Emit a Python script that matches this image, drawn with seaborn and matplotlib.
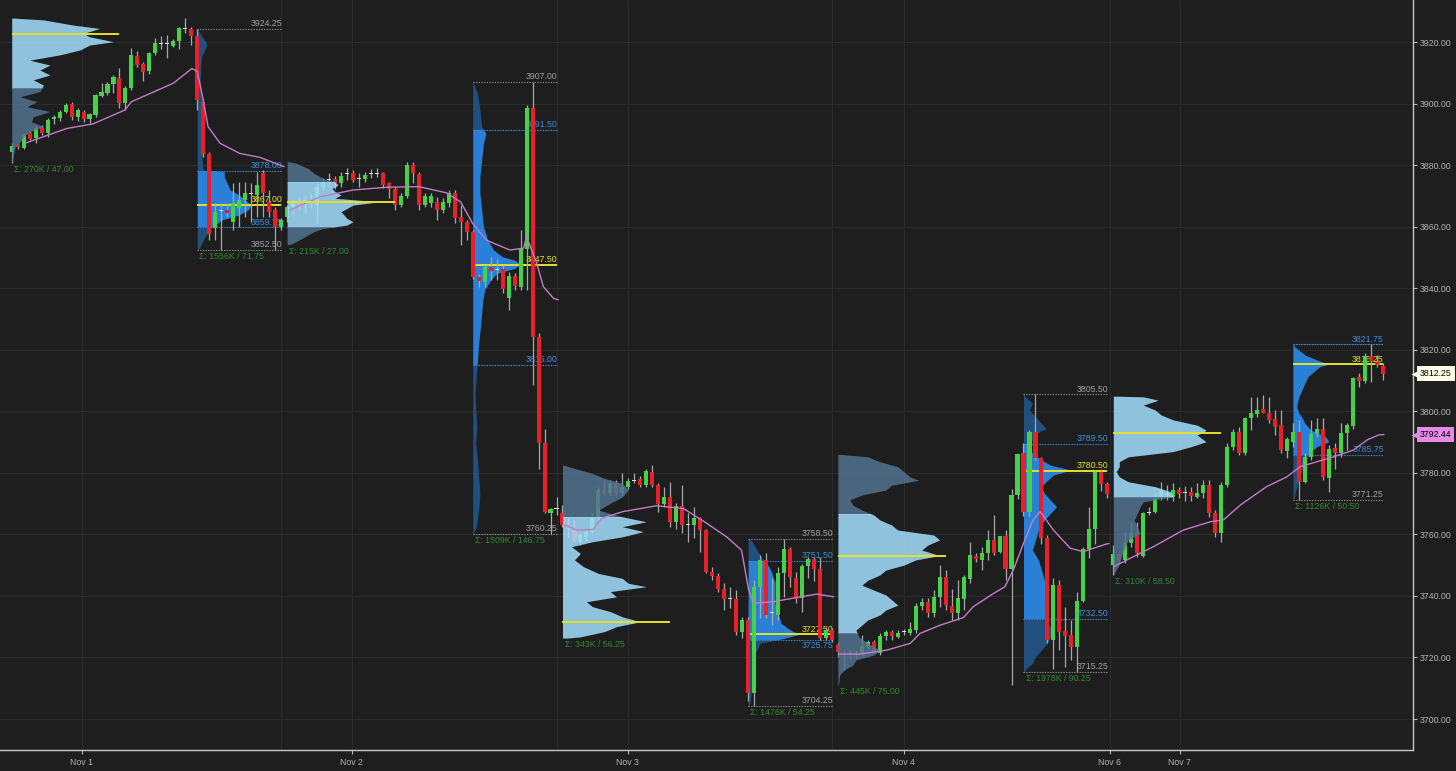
import matplotlib
matplotlib.use("Agg")
import matplotlib.pyplot as plt
import matplotlib.transforms as mtransforms
from matplotlib.patches import Rectangle
import numpy as np
import pandas as pd
import seaborn as sns

# 30 min candles (open, high, low, close), one list per session
ohlc_a = [(3884.2, 3887.1, 3880.75, 3886.3), (3886.8, 3887.3, 3885.2, 3885.8), (3885.7, 3890.5, 3885.2, 3890.0),
          (3890.3, 3891.1, 3888.2, 3888.6), (3888.7, 3892.7, 3887.3, 3892.2), (3892.4, 3893.0, 3889.8, 3890.5),
          (3890.3, 3895.2, 3889.2, 3894.6), (3894.9, 3896.3, 3893.3, 3895.7), (3895.2, 3897.9, 3894.4, 3897.4),
          (3897.4, 3900.1, 3896.8, 3899.5), (3899.7, 3900.6, 3894.6, 3895.5), (3895.7, 3898.4, 3894.4, 3897.9),
          (3897.4, 3897.9, 3894.1, 3894.9), (3895.0, 3897.0, 3893.6, 3896.5), (3896.3, 3903.1, 3895.7, 3902.8),
          (3902.6, 3906.6, 3902.2, 3903.6), (3903.5, 3907.1, 3902.8, 3906.3), (3906.3, 3909.3, 3903.3, 3908.5),
          (3908.4, 3911.4, 3898.4, 3900.1), (3900.1, 3905.7, 3897.9, 3905.2), (3905.2, 3917.9, 3904.4, 3915.8),
          (3915.5, 3917.2, 3912.0, 3912.5), (3912.7, 3913.6, 3907.4, 3910.4), (3910.7, 3916.9, 3909.6, 3916.3),
          (3916.3, 3921.2, 3915.8, 3919.6), (3919.4, 3921.9, 3917.6, 3919.6), (3919.5, 3922.3, 3914.7, 3919.4),
          (3918.7, 3920.9, 3918.3, 3920.4), (3920.4, 3925.0, 3917.6, 3924.4), (3924.2, 3927.75, 3922.8, 3924.4),
          (3924.2, 3925.0, 3919.0, 3921.9)]
ohlc_b = [(3921.9, 3924.25, 3897.9, 3901.1), (3900.6, 3901.4, 3882.5, 3883.6), (3883.6, 3884.4, 3855.7, 3857.5),
          (3859.4, 3867.6, 3855.7, 3864.9), (3865.2, 3867.6, 3852.5, 3865.0), (3865.4, 3867.6, 3863.2, 3864.3),
          (3861.6, 3874.1, 3858.9, 3867.6), (3866.0, 3874.6, 3860.0, 3868.7), (3868.7, 3874.6, 3863.2, 3870.8),
          (3870.9, 3874.1, 3861.6, 3870.7), (3870.3, 3877.9, 3863.2, 3873.5), (3877.3, 3878.4, 3863.2, 3870.8),
          (3868.1, 3871.9, 3863.2, 3864.9), (3865.4, 3866.5, 3852.5, 3860.0), (3860.0, 3862.7, 3858.9, 3862.1)]
ohlc_c = [(3863.2, 3867.0, 3861.6, 3866.5), (3866.5, 3869.0, 3864.0, 3868.0), (3868.0, 3869.5, 3865.5, 3867.0),
          (3867.0, 3870.0, 3864.5, 3868.5), (3868.5, 3870.5, 3866.0, 3867.5), (3867.0, 3874.1, 3861.1, 3873.0),
          (3873.0, 3875.7, 3871.9, 3874.6), (3875.2, 3877.4, 3873.3, 3875.4), (3875.4, 3876.5, 3872.3, 3874.1),
          (3874.1, 3877.9, 3873.0, 3876.5), (3877.0, 3878.9, 3875.2, 3877.2), (3877.3, 3878.4, 3874.6, 3875.2),
          (3875.4, 3877.3, 3873.0, 3875.6), (3875.4, 3877.9, 3874.6, 3876.8), (3877.0, 3878.6, 3875.7, 3877.2),
          (3877.1, 3878.9, 3876.2, 3877.3), (3877.3, 3877.9, 3872.5, 3873.5), (3874.1, 3874.6, 3869.2, 3872.1),
          (3872.1, 3873.0, 3865.4, 3867.0), (3867.0, 3870.8, 3866.5, 3870.0), (3869.9, 3881.1, 3869.2, 3880.0),
          (3880.0, 3881.1, 3874.1, 3877.3), (3877.1, 3877.9, 3865.4, 3867.0), (3867.0, 3870.8, 3866.5, 3870.0),
          (3867.6, 3870.8, 3866.5, 3869.9), (3868.1, 3869.7, 3862.2, 3865.4), (3865.4, 3869.2, 3864.3, 3868.1),
          (3867.6, 3871.9, 3866.5, 3870.8), (3870.8, 3871.9, 3861.1, 3862.7), (3863.0, 3867.0, 3854.1, 3861.6),
          (3861.6, 3862.2, 3855.6, 3858.4)]
ohlc_d = [(3858.4, 3859.0, 3843.0, 3843.7), (3843.7, 3844.5, 3840.5, 3842.4), (3842.1, 3847.5, 3840.5, 3846.8),
          (3846.8, 3850.2, 3842.6, 3845.7), (3846.0, 3849.5, 3842.6, 3846.2), (3846.1, 3847.5, 3838.3, 3839.6),
          (3836.7, 3845.4, 3832.9, 3844.0), (3844.0, 3844.8, 3839.4, 3840.7), (3840.5, 3858.9, 3839.4, 3852.9),
          (3852.6, 3899.5, 3839.4, 3898.4), (3898.4, 3907.0, 3808.5, 3824.2), (3824.2, 3825.3, 3781.4, 3789.6),
          (3789.6, 3794.4, 3766.8, 3767.4), (3767.0, 3768.5, 3760.25, 3768.1), (3768.1, 3772.2, 3766.3, 3768.3)]
ohlc_e = [(3766.8, 3769.5, 3762.5, 3763.0), (3763.0, 3765.2, 3759.2, 3761.6), (3761.4, 3764.6, 3757.6, 3758.2),
          (3757.6, 3760.5, 3756.5, 3759.7), (3759.2, 3761.5, 3758.0, 3760.8), (3760.8, 3766.8, 3760.3, 3765.4),
          (3765.2, 3775.5, 3764.7, 3774.4), (3774.4, 3777.6, 3772.8, 3773.3), (3773.3, 3777.6, 3772.8, 3776.6),
          (3776.6, 3777.6, 3772.8, 3773.3), (3773.3, 3779.8, 3772.8, 3775.5), (3775.5, 3778.2, 3774.9, 3777.4),
          (3777.4, 3779.8, 3776.6, 3777.6), (3777.9, 3779.0, 3775.5, 3776.0), (3776.0, 3781.4, 3775.5, 3780.7),
          (3780.4, 3782.5, 3775.5, 3776.0), (3776.0, 3776.6, 3767.4, 3769.9), (3769.9, 3775.5, 3769.0, 3772.0),
          (3772.0, 3777.1, 3762.5, 3764.1), (3764.1, 3770.1, 3761.9, 3769.3), (3769.3, 3776.0, 3760.3, 3763.0),
          (3763.2, 3766.8, 3757.6, 3763.0), (3763.0, 3769.0, 3758.7, 3765.2), (3765.2, 3765.7, 3754.4, 3761.4),
          (3761.4, 3761.9, 3747.3, 3747.9), (3747.9, 3749.5, 3745.2, 3746.5), (3746.5, 3747.3, 3741.4, 3742.4),
          (3742.4, 3744.1, 3735.4, 3738.9), (3739.1, 3743.0, 3736.0, 3738.9), (3738.9, 3741.9, 3727.3, 3728.4),
          (3728.4, 3733.2, 3726.25, 3732.2)]
ohlc_f = [(3732.2, 3733.0, 3706.0, 3708.3), (3708.3, 3745.2, 3704.25, 3743.0), (3743.0, 3753.3, 3732.7, 3751.7),
          (3751.7, 3753.8, 3732.7, 3733.8), (3734.6, 3745.7, 3730.5, 3734.4), (3733.8, 3749.5, 3732.2, 3747.5),
          (3747.5, 3758.5, 3739.7, 3755.1), (3755.1, 3756.0, 3743.0, 3746.0), (3745.7, 3747.9, 3737.6, 3738.9),
          (3739.2, 3750.5, 3734.9, 3749.7), (3749.7, 3752.7, 3745.7, 3752.0), (3751.9, 3752.7, 3745.0, 3748.9),
          (3748.9, 3752.7, 3725.7, 3726.2), (3726.2, 3730.0, 3725.7, 3728.9), (3728.9, 3729.5, 3725.1, 3725.7)]
ohlc_g = [(3724.0, 3725.1, 3720.2, 3721.9), (3721.5, 3722.5, 3716.0, 3721.0), (3721.0, 3722.4, 3719.5, 3721.2),
          (3721.2, 3722.4, 3719.9, 3720.8), (3721.3, 3727.3, 3720.8, 3723.7), (3723.5, 3725.7, 3722.9, 3725.1),
          (3725.1, 3725.7, 3721.3, 3721.9), (3721.5, 3727.8, 3720.8, 3727.0), (3727.0, 3729.0, 3725.7, 3728.4),
          (3728.4, 3729.0, 3725.7, 3727.0), (3726.7, 3729.0, 3726.2, 3728.1), (3728.2, 3729.4, 3727.3, 3728.4),
          (3728.0, 3731.6, 3727.3, 3729.1), (3728.9, 3737.6, 3727.8, 3736.7), (3736.7, 3739.2, 3735.4, 3738.1),
          (3738.1, 3739.2, 3733.2, 3734.3), (3734.5, 3741.9, 3733.2, 3739.7), (3739.7, 3750.0, 3736.5, 3746.2),
          (3746.2, 3748.4, 3735.4, 3737.0), (3736.7, 3742.4, 3732.2, 3734.5), (3734.3, 3745.1, 3732.2, 3739.2),
          (3739.0, 3746.8, 3735.4, 3746.0), (3745.4, 3757.6, 3744.1, 3753.3), (3752.9, 3753.8, 3751.1, 3751.9),
          (3751.7, 3756.0, 3748.4, 3754.0), (3753.8, 3761.4, 3751.7, 3758.2), (3758.2, 3766.3, 3753.3, 3754.0),
          (3754.4, 3759.5, 3753.8, 3759.5), (3759.5, 3761.4, 3745.1, 3748.9), (3748.9, 3774.9, 3711.0, 3772.8),
          (3772.8, 3786.0, 3771.5, 3786.0)]
ohlc_h = [(3786.3, 3789.6, 3766.0, 3767.4), (3767.4, 3794.0, 3766.0, 3793.4), (3793.4, 3805.5, 3784.2, 3784.7),
          (3784.7, 3785.2, 3757.0, 3758.7), (3758.7, 3759.8, 3724.6, 3725.7), (3725.7, 3745.7, 3716.4, 3743.5),
          (3743.5, 3745.1, 3722.4, 3728.4), (3728.7, 3736.5, 3717.0, 3727.0), (3727.3, 3732.2, 3719.2, 3723.5),
          (3723.5, 3741.4, 3715.25, 3738.4), (3738.4, 3756.0, 3738.0, 3755.4), (3755.4, 3769.0, 3752.2, 3761.6),
          (3761.6, 3780.9, 3757.0, 3780.4), (3780.4, 3781.4, 3774.0, 3776.4), (3776.4, 3777.1, 3771.7, 3773.1)]
ohlc_i = [(3750.0, 3756.5, 3746.8, 3753.6), (3753.3, 3754.0, 3751.1, 3751.7), (3751.7, 3760.9, 3750.6, 3757.3),
          (3757.1, 3764.1, 3756.0, 3760.5), (3760.3, 3764.1, 3752.7, 3753.8), (3753.0, 3767.4, 3752.7, 3766.8),
          (3767.0, 3769.0, 3766.3, 3767.2), (3767.4, 3773.3, 3766.8, 3772.2), (3772.2, 3777.1, 3771.2, 3774.2),
          (3773.2, 3776.0, 3771.2, 3772.9), (3772.2, 3776.6, 3770.9, 3774.4), (3774.4, 3775.5, 3771.7, 3773.1),
          (3773.5, 3775.7, 3771.0, 3773.3), (3773.9, 3775.5, 3771.0, 3772.6), (3772.2, 3776.6, 3771.7, 3773.5),
          (3773.3, 3777.6, 3771.7, 3776.0), (3776.0, 3777.6, 3765.7, 3766.8), (3766.8, 3767.9, 3759.2, 3760.3),
          (3760.3, 3777.1, 3757.6, 3776.0), (3776.0, 3789.6, 3775.5, 3788.3), (3788.3, 3794.4, 3787.4, 3793.4),
          (3793.4, 3795.0, 3785.8, 3786.3), (3786.3, 3798.2, 3785.8, 3797.7), (3797.7, 3804.7, 3793.9, 3799.3),
          (3799.1, 3804.7, 3798.2, 3800.4), (3800.6, 3805.3, 3799.3, 3799.5), (3799.3, 3804.7, 3796.1, 3797.2),
          (3797.4, 3800.4, 3792.3, 3795.0), (3795.5, 3800.4, 3786.3, 3787.4), (3787.0, 3791.7, 3784.7, 3790.9)]
ohlc_j = [(3790.1, 3796.1, 3788.5, 3793.4), (3793.4, 3797.2, 3771.25, 3777.1), (3777.1, 3786.3, 3776.6, 3785.2),
          (3785.0, 3797.2, 3784.2, 3792.6), (3792.6, 3797.7, 3791.7, 3794.1), (3794.1, 3797.7, 3777.6, 3778.7),
          (3778.2, 3789.0, 3773.9, 3787.6), (3788.0, 3789.6, 3781.4, 3786.3), (3786.3, 3796.1, 3785.2, 3792.8),
          (3792.8, 3796.1, 3787.4, 3795.5), (3795.2, 3811.2, 3794.4, 3810.7), (3811.2, 3812.3, 3808.0, 3809.9),
          (3809.9, 3818.8, 3809.1, 3817.9), (3817.9, 3821.75, 3809.6, 3816.4), (3816.1, 3818.3, 3814.5, 3815.0),
          (3814.7, 3815.6, 3810.2, 3812.25)]

# session VWAP, read at a few bars per segment
vw_ab_x = [2.2, 9.2, 13.6, 18.9, 20.0, 27.0, 30.1, 31.0, 32.0, 32.8, 34.8, 38.1, 41.5, 44.8, 45.5]
vw_ab_y = [3887.1, 3891.9, 3893.4, 3897.9, 3900.6, 3906.6, 3911.4, 3910.4, 3901.1, 3892.5, 3887.1, 3883.8, 3882.5, 3880.0, 3879.5]
vw_cd_x = [46.5, 51.5, 57.0, 62.6, 68.0, 72.6, 75.0, 77.0, 79.3, 83.2, 85.5, 86.0, 87.7, 88.8, 90.5, 91.3]
vw_cd_y = [3865.4, 3869.7, 3871.9, 3872.8, 3873.0, 3871.0, 3868.0, 3861.0, 3855.6, 3852.4, 3853.0, 3856.7, 3848.1, 3840.5, 3836.7, 3836.2]
vw_ef_x = [92.4, 94.4, 97.1, 98.5, 102.1, 107.7, 112.2, 116.1, 119.4, 121.9, 123.1, 123.9, 127.2, 131.7, 134.5, 137.3]
vw_ef_y = [3763.0, 3761.4, 3761.6, 3765.2, 3767.4, 3769.3, 3768.4, 3763.6, 3759.2, 3754.9, 3741.9, 3737.6, 3738.1, 3739.7, 3740.6, 3739.7]
vw_gh_x = [138.1, 141.7, 146.2, 150.1, 151.7, 155.1, 159.0, 160.6, 164.0, 165.9, 167.3, 169.0, 170.6, 171.8, 174.0, 176.8, 179.0, 180.7, 182.9, 183.3]
vw_gh_y = [3721.1, 3721.1, 3722.4, 3724.6, 3727.8, 3730.5, 3733.0, 3736.5, 3740.8, 3743.0, 3748.4, 3757.1, 3764.7, 3767.4, 3761.4, 3755.5, 3754.4, 3755.5, 3756.9, 3757.0]
vw_ij_x = [184.1, 187.3, 190.7, 195.7, 200.2, 202.4, 205.2, 209.6, 213.0, 215.2, 218.0, 220.8, 224.1, 226.4, 228.3, 229.2]
vw_ij_y = [3749.5, 3752.7, 3756.0, 3761.4, 3764.1, 3764.7, 3769.5, 3775.5, 3778.7, 3782.0, 3783.6, 3785.2, 3787.4, 3790.7, 3792.3, 3792.44]

# volume profiles: price levels and widths (in bars)
prof_a_px = [3927.75, 3927.2, 3925.5, 3924.4, 3922.8, 3921.7, 3920.1, 3919.0, 3917.4, 3915.8, 3914.1, 3912.5, 3910.9, 3909.3, 3907.7,
             3906.0, 3903.9, 3902.2, 3900.6, 3899.0, 3897.4, 3895.7, 3894.1, 3892.5, 3890.9, 3889.2, 3887.6, 3886.0, 3884.4, 3880.75]
prof_a_w = [0.3, 5.3, 10.3, 14.7, 12.0, 13.0, 17.0, 13.0, 11.4, 8.0, 3.0, 6.4, 4.7, 6.4, 3.6,
            5.3, 4.7, 1.4, 4.2, 2.5, 6.4, 3.6, 3.3, 5.3, 3.0, 2.0, 1.4, 0.6, 0.4, 0.1]
prof_b_px = [3924.25, 3923.4, 3921.7, 3920.1, 3919.0, 3917.4, 3915.2, 3912.0, 3906.6, 3901.1, 3895.7, 3890.3, 3884.9, 3881.7, 3878.4, 3877.9,
             3876.2, 3874.1, 3871.9, 3870.3, 3868.7, 3867.0, 3865.4, 3863.8, 3862.1, 3860.5, 3858.9, 3857.3, 3855.7, 3853.5, 3852.5]
prof_b_w = [0.1, 0.3, 0.8, 1.4, 1.6, 1.2, 0.7, 0.6, 0.5, 0.8, 0.6, 0.7, 0.8, 0.8, 1.0, 4.5,
            4.5, 5.0, 5.5, 7.0, 8.0, 9.0, 8.5, 7.0, 4.0, 3.0, 2.0, 1.5, 1.0, 0.5, 0.1]
prof_c_px = [3881.1, 3880.6, 3878.9, 3877.3, 3875.7, 3874.6, 3873.5, 3872.4, 3871.4, 3870.3, 3869.2, 3868.1, 3867.0,
             3865.9, 3864.9, 3863.8, 3862.7, 3861.6, 3860.5, 3859.4, 3858.4, 3857.3, 3856.2, 3855.1, 3854.1]
prof_c_w = [0.2, 1.5, 3.5, 4.5, 6.0, 8.0, 8.5, 7.5, 8.0, 9.0, 8.0, 15.5, 11.0,
            10.0, 9.0, 9.5, 10.0, 11.0, 10.0, 6.0, 4.5, 3.5, 2.5, 1.5, 0.3]
prof_d_px = [3907.0, 3905.5, 3903.3, 3897.9, 3892.5, 3890.3, 3887.1, 3881.7, 3876.2, 3870.8, 3865.4, 3860.0, 3855.7, 3852.4, 3850.2, 3849.1,
             3847.9, 3846.4, 3844.8, 3842.6, 3839.4, 3836.2, 3831.8, 3827.5, 3822.1, 3816.7, 3811.2, 3805.8, 3800.4, 3795.0, 3789.6,
             3784.2, 3778.7, 3773.3, 3767.9, 3762.5, 3760.25]
prof_d_w = [0.1, 0.3, 0.8, 1.2, 1.5, 2.2, 1.8, 1.5, 1.2, 1.2, 1.5, 1.8, 2.5, 3.5, 5.0, 7.0,
            8.0, 7.0, 4.0, 3.0, 2.0, 1.7, 1.5, 1.3, 1.0, 0.8, 0.6, 0.4, 0.5, 0.7, 0.5,
            0.8, 1.0, 1.2, 1.0, 0.6, 0.1]
prof_e_px = [3782.5, 3782.0, 3779.8, 3778.2, 3776.6, 3774.4, 3772.2, 3770.1, 3767.9, 3765.7, 3764.1, 3762.5, 3760.9, 3759.2, 3757.6, 3756.0, 3753.8,
             3751.7, 3749.5, 3747.3, 3745.7, 3744.1, 3743.0, 3741.4, 3739.7, 3738.1, 3736.5, 3734.9, 3733.2, 3731.6, 3730.0, 3728.4, 3726.7, 3726.25]
prof_e_w = [0.2, 1.0, 5.0, 7.0, 10.0, 11.0, 10.0, 8.0, 6.0, 10.0, 14.0, 10.0, 13.5, 10.0, 5.0, 1.5, 3.0,
            2.0, 3.5, 6.0, 10.0, 11.0, 14.0, 8.0, 9.0, 4.0, 5.0, 8.0, 10.0, 13.0, 9.0, 7.0, 3.0, 0.5]
prof_f_px = [3758.5, 3758.2, 3754.9, 3751.7, 3749.5, 3747.3, 3744.1, 3740.8, 3737.6, 3734.3, 3731.1, 3729.0, 3727.5, 3726.2,
             3724.6, 3721.3, 3717.0, 3712.6, 3708.3, 3705.1, 3704.25]
prof_f_w = [0.1, 0.5, 1.5, 2.5, 3.5, 4.0, 4.5, 4.5, 4.5, 5.0, 5.5, 7.0, 8.5, 6.0,
            2.0, 1.2, 1.0, 0.8, 0.5, 0.3, 0.1]
prof_g_px = [3786.0, 3785.2, 3783.6, 3782.0, 3780.4, 3778.7, 3777.6, 3776.0, 3774.4, 3772.8, 3771.2, 3769.5, 3767.9, 3766.3, 3764.7,
             3763.0, 3761.4, 3759.8, 3758.2, 3756.5, 3754.9, 3753.1, 3751.7, 3750.0, 3748.4, 3746.8, 3745.1, 3743.5, 3741.9, 3740.3,
             3738.7, 3737.0, 3735.4, 3733.8, 3732.2, 3730.5, 3728.9, 3726.7, 3724.6, 3722.4, 3720.8, 3719.2, 3717.5, 3715.9, 3714.3, 3711.0]
prof_g_w = [0.5, 5.0, 7.0, 10.0, 11.0, 12.0, 13.5, 9.0, 8.0, 4.0, 2.0, 2.5, 4.0, 6.0, 7.0,
            9.0, 10.0, 16.0, 17.0, 15.0, 14.0, 17.0, 13.0, 11.0, 8.0, 7.0, 5.0, 4.0, 6.0, 8.0,
            9.0, 10.0, 8.0, 7.0, 5.0, 4.0, 3.0, 3.5, 5.0, 7.0, 6.0, 3.0, 2.5, 1.0, 0.3, 0.1]
prof_h_px = [3805.5, 3804.7, 3802.6, 3800.4, 3798.2, 3796.1, 3794.4, 3792.8, 3790.7, 3788.5, 3786.3, 3784.2, 3782.5, 3780.9, 3779.3,
             3777.6, 3775.5, 3773.3, 3771.2, 3769.0, 3766.8, 3764.7, 3761.4, 3758.2, 3754.9, 3751.7, 3748.4, 3745.1, 3741.9, 3738.7,
             3735.4, 3731.1, 3728.9, 3726.7, 3724.6, 3722.4, 3720.2, 3718.1, 3716.4, 3715.25]
prof_h_w = [0.1, 0.3, 1.5, 1.0, 2.0, 3.0, 3.8, 2.0, 1.5, 1.0, 1.5, 3.0, 4.5, 8.0, 5.0,
            4.0, 3.0, 3.5, 4.5, 5.5, 4.5, 3.5, 2.5, 2.0, 1.5, 2.5, 3.0, 3.5, 4.0, 3.5,
            3.5, 4.0, 5.0, 4.5, 4.0, 3.0, 2.0, 1.5, 0.5, 0.1]
prof_i_px = [3804.9, 3804.7, 3803.6, 3802.0, 3800.4, 3798.8, 3797.2, 3795.5, 3793.9, 3793.1, 3792.3, 3790.1, 3788.5, 3786.9, 3785.2,
             3783.6, 3782.0, 3780.4, 3778.7, 3777.1, 3775.5, 3773.9, 3772.2, 3770.6, 3769.0, 3766.8, 3764.7, 3762.5, 3760.3, 3758.2,
             3756.0, 3753.8, 3751.7, 3749.5, 3747.9, 3746.8]
prof_i_w = [0.5, 5.0, 7.5, 5.0, 7.0, 8.0, 10.0, 14.0, 15.5, 15.0, 14.0, 15.5, 13.0, 10.0, 2.5,
            1.0, 1.0, 0.5, 1.0, 2.5, 7.0, 9.5, 10.0, 5.0, 4.5, 4.0, 3.5, 4.0, 4.5, 2.5,
            2.0, 1.5, 1.2, 0.8, 0.3, 0.1]
prof_j_px = [3821.75, 3821.0, 3819.9, 3818.3, 3816.7, 3815.3, 3814.5, 3812.9, 3811.2, 3809.1, 3806.9, 3804.7, 3801.5, 3799.3, 3798.2,
             3796.1, 3793.9, 3791.7, 3790.1, 3788.5, 3786.9, 3785.2, 3783.1, 3780.9, 3778.7, 3776.6, 3774.4, 3772.2, 3771.25]
prof_j_w = [0.1, 0.3, 1.0, 2.0, 4.0, 6.0, 4.5, 3.5, 2.5, 2.0, 1.5, 1.0, 0.6, 1.0, 1.5,
            2.0, 3.0, 5.5, 6.0, 4.0, 3.0, 2.5, 2.0, 1.5, 1.2, 0.8, 0.5, 0.3, 0.1]

# overnight sessions (A, C, E, G, I)
eth_start = [0, 46, 92, 138, 184]
eth_poc = [3922.5, 3868.1, 3731.6, 3753.1, 3793.1]
eth_vah = [3927.75, 3874.6, 3765.5, 3766.5, 3804.9]
eth_val = [3905.0, 3860.0, 3726.25, 3728.0, 3772.2]
eth_low = [3880.75, 3854.1, 3726.25, 3711.0, 3746.8]
eth_sigma = ["Σ: 270K / 47.00", "Σ: 215K / 27.00", "Σ: 343K / 56.25", "Σ: 445K / 75.00", "Σ: 310K / 58.50"]

# regular sessions (B, D, F, H, J)
rth_start = [31, 77, 123, 169, 214]
rth_end = [45, 91, 137, 183, 229]
rth_high = [3924.25, 3907.00, 3758.50, 3805.50, 3821.75]
rth_vah = [3878.00, 3891.50, 3751.50, 3789.50, 3821.75]
rth_poc = [3867.00, 3847.50, 3727.50, 3780.50, 3815.25]
rth_val = [3859.75, 3815.00, 3725.75, 3732.50, 3785.75]
rth_low = [3852.50, 3760.25, 3704.25, 3715.25, 3771.25]
rth_sigma = ["Σ: 1556K / 71.75", "Σ: 1509K / 146.75", "Σ: 1476K / 54.25", "Σ: 1978K / 90.25", "Σ: 1126K / 50.50"]

date_pos = [11.7, 56.8, 102.9, 149.0, 183.4, 195.1]
date_lab = ["Nov 1", "Nov 2", "Nov 3", "Nov 4", "Nov 6", "Nov 7"]
close_pos = [45, 91, 137]
price_ticks = [3700, 3720, 3740, 3760, 3780, 3800, 3820, 3840, 3860, 3880, 3900, 3920]
last_price = 3812.25
last_vwap = 3792.44

bg = "#1e1e1e"
sns.set_theme(style="dark", rc={"axes.facecolor": bg, "figure.facecolor": bg, "savefig.facecolor": bg,
                                "axes.edgecolor": "#c8c8c8", "text.color": "#b4b4b4",
                                "xtick.color": "#b4b4b4", "ytick.color": "#b4b4b4"})
plt.rcParams["font.family"] = ["Liberation Sans", "DejaVu Sans"]
FS = 6.3

fig = plt.figure(figsize=(14.56, 7.71), dpi=100)
ax = fig.add_axes([0, 0.02724, 0.97047, 0.97276])
ax.set_xlim(-1.954, 234.06)
ax.set_ylim(3689.93, 3933.65)

# grid
for p in price_ticks:
    ax.axhline(p, color="#2c2c2c", lw=0.8, zorder=0.5)
for x in date_pos + close_pos:
    ax.axvline(x, color="#2c2c2c", lw=0.8, zorder=0.5)

LIGHT_IN, LIGHT_OUT = "#a4e0ff", "#537491"
BLUE_IN, BLUE_OUT = "#2a80d6", "#214f7e"


def draw_profile(x0, px, w, vah, val, c_in, c_out, z, alpha):
    px = np.asarray(px)
    w = np.asarray(w)
    parts = [(vah, 4000.0, c_out), (val, vah, c_in), (3600.0, val, c_out)]
    for lo, hi, col in parts:
        poly = ax.fill_betweenx(px, x0, x0 + w, color=col, lw=0, zorder=z, alpha=alpha)
        poly.set_clip_path(Rectangle((x0 - 1, lo), 60, hi - lo, transform=ax.transData))


eth_profiles = [(prof_a_px, prof_a_w), (prof_c_px, prof_c_w), (prof_e_px, prof_e_w),
                (prof_g_px, prof_g_w), (prof_i_px, prof_i_w)]
rth_profiles = [(prof_b_px, prof_b_w), (prof_d_px, prof_d_w), (prof_f_px, prof_f_w),
                (prof_h_px, prof_h_w), (prof_j_px, prof_j_w)]

# regular session profiles sit under the candles
for k, (px, w) in enumerate(rth_profiles):
    x0, x1 = rth_start[k], rth_end[k]
    draw_profile(x0, px, w, rth_vah[k], rth_val[k], BLUE_IN, BLUE_OUT, 1, 1.0)
    dot = (0, (1.2, 1.2))
    ax.hlines([rth_high[k], rth_low[k]], x0, x1, colors="#8c8c8c", linestyles=[dot], lw=0.8, zorder=1.2)
    ax.hlines([rth_vah[k], rth_val[k]], x0, x1, colors="#3b8ede", linestyles=[dot], lw=0.8, zorder=1.3)
    ax.hlines(rth_poc[k], x0, x1, colors="#e2e22a", lw=1.4, zorder=1.4)
    items = [(rth_low[k], "#a0a0a0", 1), (rth_vah[k], "#3b8ede", 1), (rth_poc[k], "#e6e033", 1)]
    if rth_high[k] != rth_vah[k]:
        items.append((rth_high[k], "#a0a0a0", 1))
    # value-area low sits under its line when it is close to the poc
    items.append((rth_val[k], "#3b8ede", -1 if abs(rth_poc[k] - rth_val[k]) < 3 else 1))
    for v, col, side in items:
        ax.annotate(f"{v:.2f}", xy=(x1 + 0.2, v), xytext=(0, 0.6 * side), textcoords="offset points",
                    ha="right", va="bottom" if side > 0 else "top", fontsize=FS, color=col, zorder=1.5)
    ax.annotate(rth_sigma[k], xy=(x0, rth_low[k]), xytext=(1.5, -1.5), textcoords="offset points",
                ha="left", va="top", fontsize=FS, color="#2f8a2f", zorder=1.5)

# candles
all_ohlc = ohlc_a + ohlc_b + ohlc_c + ohlc_d + ohlc_e + ohlc_f + ohlc_g + ohlc_h + ohlc_i + ohlc_j
bars = np.arange(len(all_ohlc))
o = np.array([q[0] for q in all_ohlc])
h = np.array([q[1] for q in all_ohlc])
l = np.array([q[2] for q in all_ohlc])
c = np.array([q[3] for q in all_ohlc])
body_col = np.where(np.abs(c - o) < 0.35, "#dcdcdc", np.where(c >= o, "#46d246", "#e8202a"))
ax.vlines(bars, l, h, colors="#a8a8a8", lw=0.9, zorder=2)
ax.bar(bars, np.maximum(np.abs(c - o), 0.35), bottom=np.minimum(o, c), width=0.68,
       color=body_col, lw=0, zorder=3)

# overnight profiles drawn over the candles
for k, (px, w) in enumerate(eth_profiles):
    x0 = eth_start[k]
    draw_profile(x0, px, w, eth_vah[k], eth_val[k], LIGHT_IN, LIGHT_OUT, 4, 0.85)
    ax.hlines(eth_poc[k], x0, x0 + 18, colors="#e2e22a", lw=1.4, zorder=6)
    ax.annotate(eth_sigma[k], xy=(x0, eth_low[k]), xytext=(1.5, -1.5), textcoords="offset points",
                ha="left", va="top", fontsize=FS, color="#2f8a2f", zorder=6)

# session vwap
segs = [("ab", vw_ab_x, vw_ab_y), ("cd", vw_cd_x, vw_cd_y), ("ef", vw_ef_x, vw_ef_y),
        ("gh", vw_gh_x, vw_gh_y), ("ij", vw_ij_x, vw_ij_y)]
vw = pd.concat([pd.DataFrame({"bar": xs, "vwap": ys, "seg": s}) for s, xs, ys in segs])
sns.lineplot(data=vw, x="bar", y="vwap", units="seg", estimator=None, sort=False,
             color="#c47cc8", lw=1.0, ax=ax, zorder=5, legend=False)
ax.set_xlabel("")
ax.set_ylabel("")

# axes styling
ax.yaxis.tick_right()
ax.set_yticks(price_ticks)
ax.set_yticklabels([f"{p:.2f}" for p in price_ticks])
ax.set_xticks(date_pos)
ax.set_xticklabels(date_lab)
ax.tick_params(axis="y", right=True, left=False, length=3, width=0.8, labelsize=FS, pad=2,
               colors="#b4b4b4")
ax.tick_params(axis="x", bottom=True, length=3, width=0.8, labelsize=FS, pad=3, colors="#b4b4b4")
for s in ["left", "top"]:
    ax.spines[s].set_visible(False)
for s in ["right", "bottom"]:
    ax.spines[s].set_color("#c8c8c8")
    ax.spines[s].set_linewidth(1.0)

# last price and vwap tags on the price axis
trans = mtransforms.blended_transform_factory(ax.transAxes, ax.transData)
for val, fc in [(last_price, "#fffbe6"), (last_vwap, "#e58be6")]:
    ax.text(1.0 + 7 / 1413, val, f"{val:.2f}", transform=trans, ha="left", va="center", fontsize=FS,
            color="black", clip_on=False, zorder=10,
            bbox=dict(boxstyle="square,pad=0.32", fc=fc, ec="none"))
    ax.plot([1.0 + 1.5 / 1413], [val], marker="<", ms=6, color=fc, mec="none", transform=trans,
            clip_on=False, zorder=10)

fig.savefig("out.png", dpi=100, facecolor=bg)
